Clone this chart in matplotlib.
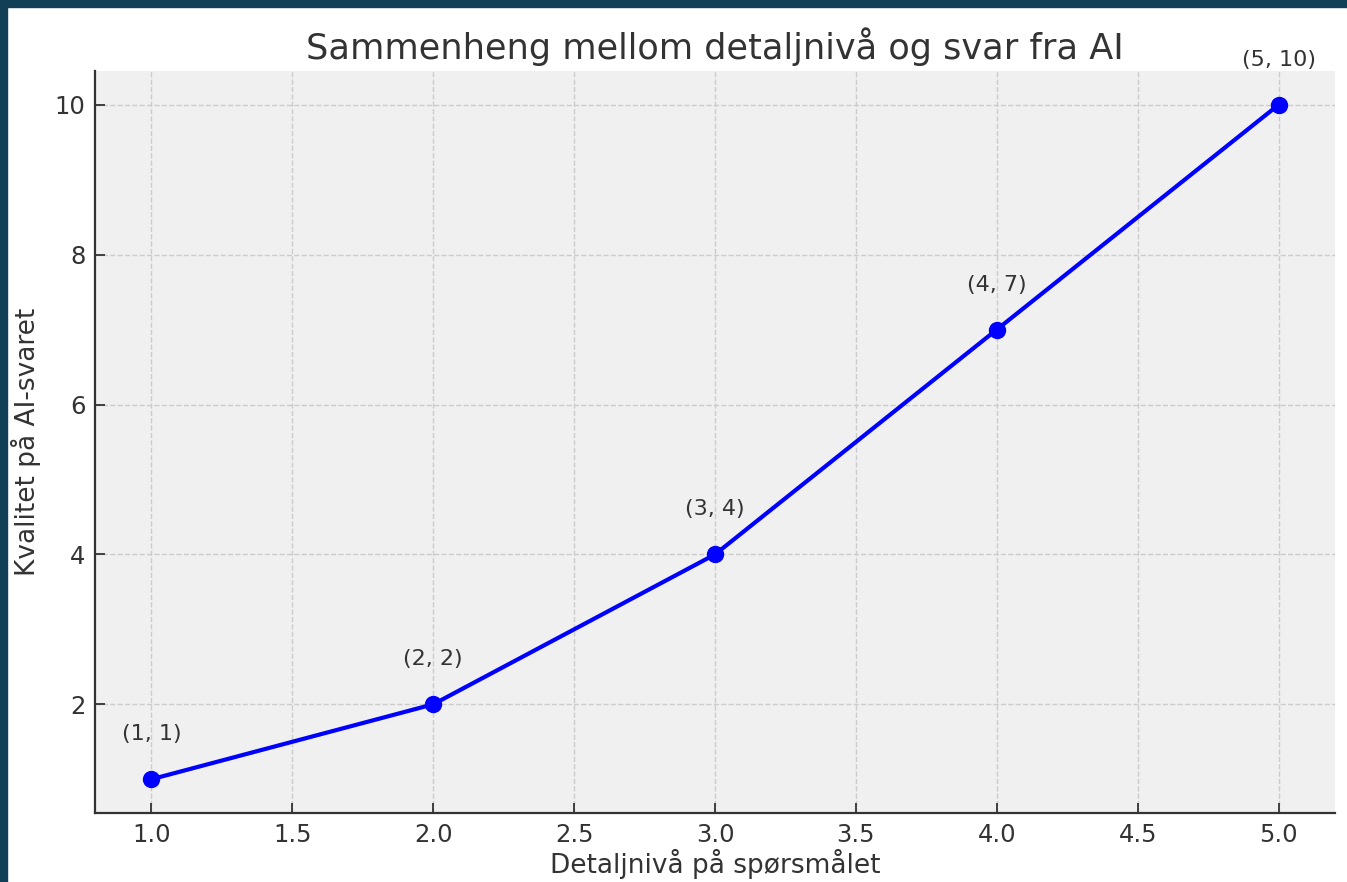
import matplotlib

matplotlib.use("Agg")
import matplotlib.pyplot as plt
from matplotlib.patches import Rectangle

# data
detail = [1, 2, 3, 4, 5]
quality = [1, 2, 4, 7, 10]

TITLE = "Sammenheng mellom detaljnivå og svar fra AI"
XLABEL = "Detaljnivå på spørsmålet"
YLABEL = "Kvalitet på AI-svaret"

BORDER = "#123f56"
TEXT = "#333333"

W, H, DPI = 1347, 882, 100
fig = plt.figure(figsize=(W / DPI, H / DPI), dpi=DPI, facecolor="white")

# dark screenshot frame on top and left edges
fig.patches.append(Rectangle((0, 1 - 7 / H), 1, 7 / H, transform=fig.transFigure,
                             color=BORDER, zorder=10))
fig.patches.append(Rectangle((0, 0), 7 / W, 1, transform=fig.transFigure,
                             color=BORDER, zorder=10))

ax = fig.add_axes([95 / W, 1 - 813 / H, (1335 - 95) / W, (813 - 71) / H])
ax.set_facecolor("#f0f0f0")

ax.plot(detail, quality, color="#0000ff", linewidth=3, marker="o",
        markersize=11.5, zorder=3)

for x, y in zip(detail, quality):
    ax.annotate(f"({x}, {y})", (x, y), xytext=(0, 45), textcoords="offset pixels",
                ha="center", va="center", fontsize=16, color=TEXT,
                annotation_clip=False)

ax.set_xlim(0.8, 5.2)
ax.set_ylim(0.55, 10.45)
ax.set_xticks([1.0, 1.5, 2.0, 2.5, 3.0, 3.5, 4.0, 4.5, 5.0])
ax.set_yticks([2, 4, 6, 8, 10])

ax.grid(True, linestyle="--", color="#cccccc", linewidth=1)
ax.set_axisbelow(True)

for side in ("top", "right"):
    ax.spines[side].set_visible(False)
for side in ("left", "bottom"):
    ax.spines[side].set_color(TEXT)
    ax.spines[side].set_linewidth(1.6)

ax.tick_params(direction="in", length=7, width=1.3, colors=TEXT,
               labelsize=17.5, pad=7)

ax.set_title(TITLE, fontsize=25.3, color=TEXT, pad=9)
ax.set_xlabel(XLABEL, fontsize=19, color=TEXT, labelpad=1.5)
ax.set_ylabel(YLABEL, fontsize=19, color=TEXT, labelpad=10)

fig.savefig("out.png", dpi=DPI, facecolor="white")
